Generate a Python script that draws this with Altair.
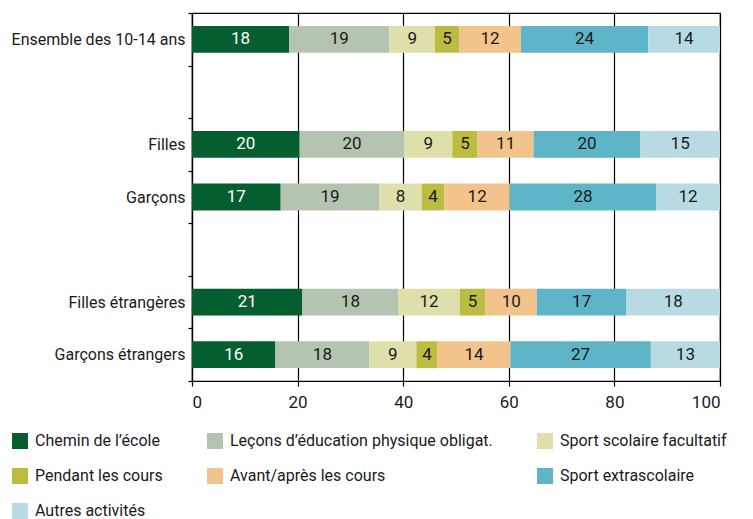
import altair as alt
import pandas as pd

FONT = "Roboto"

rows = ["Ensemble des 10-14 ans", " ", "Filles", "Garçons", "  ", "Filles étrangères", "Garçons étrangers"]
groups = ["Ensemble des 10-14 ans", "Filles", "Garçons", "Filles étrangères", "Garçons étrangers"]
activities = [
    "Chemin de l’école",
    "Leçons d’éducation physique obligat.",
    "Sport scolaire facultatif",
    "Pendant les cours",
    "Avant/après les cours",
    "Sport extrascolaire",
    "Autres activités",
]
colors = ["#055e30", "#b5c4b1", "#dfdfab", "#bcbd40", "#f2c48b", "#5eb5c8", "#b8dbe3"]

ensemble = [18.4, 19.0, 8.6, 4.6, 11.7, 24.1, 13.6]
filles = [20.4, 19.8, 9.1, 4.8, 10.6, 20.2, 15.1]
garcons = [16.8, 18.7, 8.0, 4.3, 12.4, 27.7, 12.1]
filles_etr = [20.9, 18.2, 11.6, 4.9, 9.7, 17.0, 17.7]
garcons_etr = [15.8, 17.8, 8.9, 4.0, 13.8, 26.6, 13.1]
series = [ensemble, filles, garcons, filles_etr, garcons_etr]

records = []
for g, vals in zip(groups, series):
    for i, (a, v) in enumerate(zip(activities, vals)):
        records.append({"group": g, "activity": a, "idx": i, "value": v})
df = pd.DataFrame(records)

base = alt.Chart(df).transform_stack(
    stack="value", groupby=["group"], sort=[alt.SortField("idx")], as_=["x0", "x1"]
).transform_calculate(mid="(datum.x0 + datum.x1) / 2")

y = alt.Y(
    "group:N",
    scale=alt.Scale(domain=rows, paddingInner=0, paddingOuter=0),
    axis=alt.Axis(
        title=None, tickBand="extent", tickSize=4, tickColor="black", tickWidth=1.2,
        domainColor="black", domainWidth=1.2, labelFontSize=16, labelFont=FONT,
        labelColor="#1a1a1a", labelPadding=3, labelLimit=400,
    ),
)

bars = base.mark_bar(height=alt.RelativeBandSize(band=0.51)).encode(
    x=alt.X(
        "x0:Q",
        scale=alt.Scale(domain=[0, 100], nice=False),
        axis=alt.Axis(
            title=None, values=[0, 20, 40, 60, 80, 100], grid=True, gridColor="black",
            gridWidth=1.2, gridOpacity=1, tickSize=5, tickColor="black", tickWidth=1.2,
            domainColor="black", domainWidth=1.2, labelFontSize=17, labelFont=FONT,
            labelColor="#1a1a1a", labelPadding=8,
        ),
    ),
    x2="x1:Q",
    y=y,
    color=alt.Color(
        "activity:N",
        scale=alt.Scale(domain=activities, range=colors),
        legend=alt.Legend(
            title=None, orient="none", legendX=-180, legendY=420, columns=3,
            direction="horizontal",
            symbolType="square", symbolSize=256, symbolStrokeWidth=0,
            labelFontSize=16, labelFont=FONT, labelColor="#1a1a1a", labelLimit=500,
            labelOffset=7, rowPadding=19, columnPadding=44,
        ),
    ),
)

text = base.mark_text(fontSize=17, font=FONT, baseline="middle").encode(
    x=alt.X("mid:Q"),
    y=alt.Y("group:N"),
    text=alt.Text("value:Q", format=".0f"),
    color=alt.condition(
        alt.datum.idx == 0, alt.value("white"), alt.value("#1a1a1a")
    ),
)

chart = (
    alt.layer(bars, text)
    .properties(
        width=528, height=368,
        autosize=alt.AutoSizeParams(type="none"),
        padding={"left": 184, "top": 5, "right": 25, "bottom": 145},
    )
    .configure_view(stroke="black", strokeWidth=1.2)
)

chart.save("out.html", embed_options={"renderer": "svg", "actions": False})
